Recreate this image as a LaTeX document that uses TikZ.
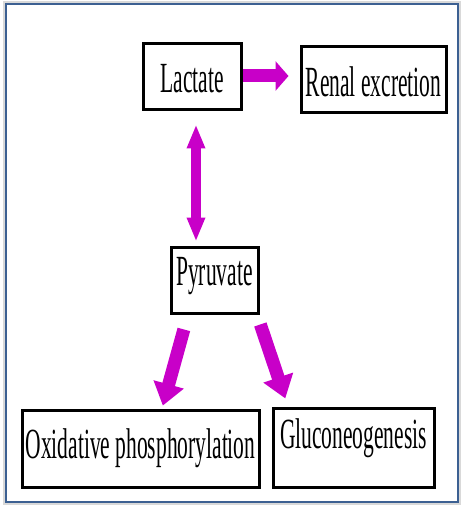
\documentclass[tikz,border=0pt]{standalone}
\usepackage{fontspec}
\setmainfont{Liberation Serif}[FakeStretch=0.5]
\usepackage{tikz}
\usetikzlibrary{arrows.meta, shadows}
\definecolor{flowpink}{RGB}{200,0,200}
\definecolor{frameblue}{RGB}{60,96,146}

\begin{document}
\begin{tikzpicture}[x=1pt,y=-1pt,
        box/.style={draw=black,fill=white,line width=3pt,inner sep=0pt,
            font=\fontsize{43}{50}\selectfont,
            drop shadow={shadow xshift=1.5pt,shadow yshift=-1.5pt,fill=black!40}},
        flow/.style={draw=flowpink,line width=13pt,-{Triangle[width=29pt,length=13pt]}},
        twoway/.style={draw=flowpink,line width=10pt,
            {Triangle[width=17pt,length=24pt]}-{Triangle[width=17pt,length=24pt]}},
        slant/.style={draw=flowpink,line width=13pt,-{Triangle[width=30pt,length=22pt]}}]

        \useasboundingbox (0,0) rectangle (461,505);
        \draw[black!15,line width=4pt] (5,3) rectangle (459,503);
        \draw[frameblue,line width=2pt] (6,4) rectangle (458,502);

        \node[box,minimum width=98pt,text height=49pt,text depth=17pt]  (lactate)  at (192,77)      {Lactate};
        \node[box,minimum width=145pt,text height=50pt,text depth=16pt] (renal)    at (373.5,80)    {Renal excretion};
        \node[box,minimum width=87pt,text height=38pt,text depth=28pt]  (pyruvate) at (214.5,280)   {Pyruvate};
        \node[box,minimum width=237pt,text height=48pt,text depth=29pt] (oxphos)   at (140.5,448.5) {Oxidative phosphorylation};
        \node[box,minimum width=161pt,text height=40pt,text depth=39pt] (gluco)    at (353.5,447.5) {Gluconeogenesis};

        \path
              ([yshift=1pt]lactate.east) edge [flow,shorten >=11pt]
                    ([yshift=1pt]lactate.east -| renal.west)

              ([xshift=4pt]lactate.south) edge [twoway,shorten <=13pt,shorten >=4pt]
                    ([xshift=4pt]lactate.south |- pyruvate.north)

              ([xshift=-26.5pt]pyruvate.south) edge [slant,shorten <=15.5pt,shorten >=3pt]
                    ([xshift=21.5pt]oxphos.north)

              ([xshift=42.5pt]pyruvate.south) edge [slant,shorten <=10.5pt,shorten >=8.5pt]
                    ([xshift=-65.5pt]gluco.north);
\end{tikzpicture}
\end{document}
